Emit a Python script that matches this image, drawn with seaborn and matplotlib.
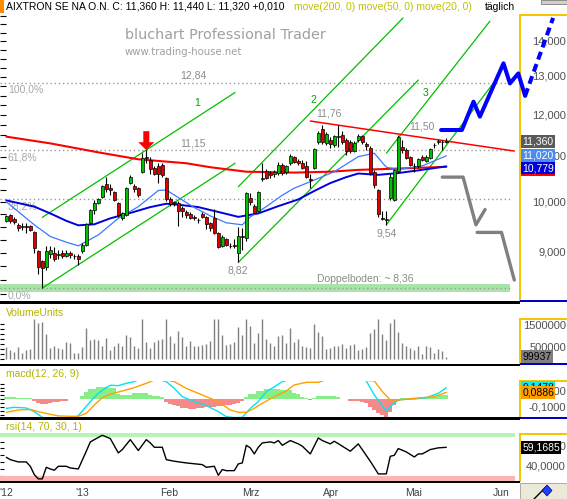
import numpy as np
import matplotlib
matplotlib.use("Agg")
import matplotlib.pyplot as plt
import seaborn as sns
from matplotlib.patches import Rectangle, Polygon
from matplotlib.transforms import IdentityTransform
from matplotlib.ticker import FixedLocator, NullLocator, NullFormatter

# ------------------------------------------------------------------ DATA
day_open = [9.62, 9.74, 9.66, 9.53, 9.50, 9.51, 9.52, 9.40, 9.04, 8.84,
            8.73, 8.98, 9.00, 8.96, 9.00, 8.94, 9.00, 8.94, 8.94, 9.03,
            9.14, 9.57, 9.85, 9.99, 10.11, 10.39, 10.30, 10.22, 9.99, 9.68,
            9.74, 10.41, 10.35, 10.31, 10.66, 11.00, 10.92, 10.74, 10.78, 10.80,
            10.52, 10.07, 9.98, 9.98, 9.88, 9.79, 9.76, 9.69, 9.64, 9.76,
            9.70, 9.58, 9.68, 9.38, 9.13, 9.26, 9.13, 9.15, 9.00, 9.32,
            9.28, 10.10, 9.93, 9.82, 10.50, 10.68, 10.62, 10.60, 10.62, 10.80,
            10.65, 10.85, 10.99, 10.90, 10.86, 10.78, 10.50, 10.75, 11.34, 11.65,
            11.33, 11.40, 11.26, 11.45, 11.50, 11.40, 11.34, 11.14, 11.38, 11.48,
            11.30, 11.20, 10.66, 10.25, 9.67, 9.64, 10.10, 10.05, 10.68, 11.23,
            11.16, 10.99, 10.79, 10.78, 11.00, 10.91, 10.98, 11.26, 11.34, 11.35,
            11.34]
day_high = [9.74, 9.76, 9.70, 9.57, 9.57, 9.57, 9.54, 9.42, 9.06, 8.86,
            9.13, 9.13, 9.10, 9.05, 9.06, 9.05, 9.04, 8.98, 8.98, 9.18,
            9.58, 9.87, 10.05, 10.08, 10.37, 10.55, 10.40, 10.24, 10.01, 9.80,
            10.33, 10.58, 10.40, 10.33, 11.08, 11.15, 11.00, 10.78, 10.85, 10.85,
            10.55, 10.12, 10.03, 10.02, 9.92, 9.84, 9.80, 9.73, 9.68, 9.79,
            9.72, 9.60, 9.86, 9.40, 9.33, 9.28, 9.18, 9.26, 9.50, 9.48,
            10.22, 10.20, 9.96, 10.24, 10.85, 10.72, 10.68, 10.70, 10.88, 10.85,
            10.82, 11.06, 11.02, 10.95, 10.92, 10.90, 10.60, 11.20, 11.60, 11.76,
            11.58, 11.45, 11.52, 11.76, 11.60, 11.44, 11.38, 11.36, 11.53, 11.52,
            11.35, 11.25, 10.70, 10.28, 9.82, 9.82, 10.60, 10.72, 11.52, 11.40,
            11.20, 11.02, 10.85, 10.96, 11.05, 11.05, 11.20, 11.33, 11.42, 11.40,
            11.44]
day_low = [9.60, 9.58, 9.56, 9.42, 9.44, 9.38, 9.42, 8.99, 8.60, 8.36,
           8.68, 8.90, 8.84, 8.88, 8.90, 8.92, 8.91, 8.88, 8.78, 9.00,
           9.12, 9.55, 9.76, 9.97, 10.08, 10.22, 10.15, 10.02, 9.70, 9.64,
           9.72, 10.38, 10.22, 10.12, 10.64, 10.85, 10.60, 10.58, 10.42, 10.55,
           10.03, 9.92, 9.93, 9.52, 9.70, 9.68, 9.66, 9.64, 9.58, 9.67,
           9.46, 9.42, 9.35, 9.09, 9.10, 9.12, 9.08, 9.09, 8.82, 9.05,
           9.22, 9.95, 9.75, 9.80, 10.46, 10.50, 10.52, 10.55, 10.58, 10.58,
           10.60, 10.82, 10.85, 10.80, 10.72, 10.52, 10.30, 10.72, 11.30, 11.30,
           11.28, 11.20, 11.22, 11.23, 11.30, 11.05, 11.08, 11.10, 11.35, 11.30,
           11.15, 10.58, 10.30, 9.70, 9.63, 9.54, 10.05, 10.02, 10.64, 11.08,
           10.95, 10.78, 10.65, 10.74, 10.90, 10.88, 10.95, 11.20, 11.30, 11.15,
           11.32]
day_close = [9.72, 9.62, 9.60, 9.47, 9.51, 9.50, 9.44, 9.08, 8.73, 8.72,
             9.04, 9.05, 8.88, 8.97, 8.94, 9.00, 8.96, 8.93, 8.88, 9.14,
             9.56, 9.85, 9.99, 10.06, 10.35, 10.29, 10.25, 10.04, 9.73, 9.78,
             10.31, 10.54, 10.28, 10.15, 10.98, 10.96, 10.73, 10.60, 10.60, 10.58,
             10.06, 9.97, 10.00, 9.82, 9.82, 9.73, 9.68, 9.68, 9.63, 9.70,
             9.55, 9.47, 9.38, 9.11, 9.30, 9.14, 9.12, 9.12, 9.31, 9.30,
             10.19, 10.00, 9.78, 10.21, 10.53, 10.53, 10.58, 10.66, 10.82, 10.62,
             10.78, 11.02, 10.88, 10.86, 10.75, 10.55, 10.48, 11.17, 11.56, 11.34,
             11.53, 11.29, 11.48, 11.48, 11.34, 11.13, 11.12, 11.33, 11.49, 11.34,
             11.25, 10.62, 10.36, 9.75, 9.66, 9.66, 10.55, 10.70, 11.45, 11.16,
             10.98, 10.82, 10.78, 10.94, 10.93, 11.00, 11.17, 11.28, 11.36, 11.35,
             11.36]
volume_k = [553, 419, 329, 553, 284, 419, 463, 1809, 1629, 1674,
            1136, 508, 598, 508, 463, 762, 732, 284, 284, 553,
            1405, 867, 897, 867, 598, 957, 419, 598, 732, 598,
            1091, 1002, 598, 508, 1809, 777, 508, 777, 867, 912,
            1809, 1046, 732, 1271, 1002, 598, 822, 598, 598, 643,
            688, 822, 1809, 1809, 1106, 643, 703, 777, 1450, 1106,
            1809, 1510, 732, 1181, 1809, 912, 732, 598, 1046, 1091,
            732, 1405, 777, 912, 598, 553, 508, 1584, 1226, 1046,
            463, 508, 598, 598, 688, 508, 658, 688, 419, 463,
            553, 1181, 1360, 1809, 1136, 867, 1629, 1809, 1226, 732,
            598, 508, 419, 598, 239, 598, 553, 284, 463, 374,
            100]

ma200_day = [0, 11, 23, 33, 45, 51, 60, 72, 81, 88, 98, 110]
ma200_val = [11.47, 11.31, 11.10, 10.94, 10.85, 10.76, 10.66, 10.64, 10.66, 10.70, 10.73, 10.77]
ma50_day = [0, 7, 11, 15, 18, 22, 26, 31, 36, 40, 43, 48, 53, 58, 63, 68, 73, 77, 81, 85, 88, 93, 98, 103, 110]
ma50_val = [10.04, 9.91, 9.77, 9.62, 9.53, 9.55, 9.67, 9.78, 9.90, 9.97, 9.95, 9.90, 9.80, 9.70, 9.77,
            9.92, 10.06, 10.24, 10.41, 10.54, 10.62, 10.59, 10.63, 10.69, 10.779]
ma20_day = [0, 7, 11, 15, 18, 23, 28, 33, 36, 38, 40, 43, 47, 51, 55, 59, 61, 65, 69, 72, 76, 82, 88,
            92, 95, 98, 104, 110]
ma20_val = [10.01, 9.54, 9.31, 9.20, 9.13, 9.34, 9.67, 9.91, 10.11, 10.25, 10.26, 10.10, 9.89, 9.72,
            9.58, 9.54, 9.70, 9.91, 10.15, 10.30, 10.44, 10.66, 11.00, 11.08, 10.76, 10.71, 10.79, 11.02]

fib_levels = [12.84, 11.15, 10.07, 8.36]
fib_pct_labels = ["100,0%", "61,8%", "38,2%", "0,0%"]

channel_day = [[9, 57.2], [9, 57.2], [58, 103], [58, 99.2], [95, 121.7], [95, 120.9]]
channel_val = [[8.36, 10.85], [9.69, 12.58], [8.82, 12.91], [10.33, 14.70], [9.54, 12.82], [11.08, 14.60]]
channel_names = ["1", "2", "3"]
resist_day = [76, 127]
resist_val = [11.85, 11.13]

proj_up_day = [108.7, 113.9, 116.8, 118.4, 124.3, 125.9, 128.0, 129.7]
proj_up_val = [11.63, 11.63, 12.34, 11.96, 13.37, 12.82, 13.09, 12.49]
proj_up_dash_day = [129.7, 136.7]
proj_up_dash_val = [12.49, 14.70]
proj_dn1_day = [109.0, 114.2, 117.4, 119.7]
proj_dn1_val = [10.54, 10.54, 9.54, 9.85]
proj_dn2_day = [117.7, 123.8, 127.0]
proj_dn2_val = [9.39, 9.39, 8.50]

macd_hist = [0.030, 0.030, 0.030, 0.021, 0.021, 0.021, 0.021,
             -0.021, -0.051, -0.064, -0.055, -0.051, -0.035, -0.030, -0.017, -0.017,
             0.0, 0.0, 0.0,
             0.047, 0.098, 0.132, 0.132, 0.158, 0.158, 0.155, 0.149, 0.149, 0.070, 0.060,
             0.056, 0.056, 0.077, 0.077, 0.077, 0.077, 0.060, 0.047, 0.040, 0.030,
             -0.030, -0.060, -0.073, -0.090, -0.107, -0.115, -0.120, -0.120, -0.115, -0.110,
             -0.105, -0.094, -0.094, -0.085, -0.081, -0.077, -0.073, -0.060, -0.051, -0.021,
             0.035, 0.064, 0.064, 0.107, 0.107, 0.132, 0.132, 0.132, 0.132, 0.120,
             0.120, 0.115, 0.077, 0.070, 0.026, 0.020, -0.013, 0.021, 0.047, 0.047,
             0.043, 0.043, 0.043, 0.026, 0.0, 0.0,
             -0.021, -0.021, -0.021, -0.035, -0.051, -0.094, -0.137, -0.180, -0.205, -0.235,
             -0.158, -0.073, -0.021,
             0.017, 0.017, 0.017, 0.017, 0.021, 0.021, 0.021, 0.030, 0.030, 0.055, 0.055, 0.055]
macd_day = [0, 2, 5, 7, 9, 12, 15, 17, 18, 21, 23, 25, 26, 28, 30, 32, 35, 40, 42, 44, 47, 50,
            53, 55, 57, 59, 61, 63, 65, 67, 69, 75, 82, 88, 90, 92, 95, 96, 98, 100, 102, 105, 108, 110]
macd_val = [-0.116, -0.103, -0.111, -0.158, -0.231, -0.27, -0.27, -0.24, -0.21, -0.03, 0.077, 0.15,
            0.18, 0.175, 0.205, 0.226, 0.30, 0.226, 0.14, 0.034, -0.03, -0.08, -0.158, -0.222, -0.235,
            -0.231, -0.116, -0.03, 0.098, 0.16, 0.226, 0.32, 0.34, 0.30, 0.235, 0.055, -0.15, -0.094,
            -0.009, 0.0, 0.004, 0.02, 0.077, 0.1478]
signal_day = [0, 3, 6, 8, 11, 13, 16, 18, 20, 22, 24, 26, 29, 32, 35, 36, 38, 42, 45, 49, 53, 56,
              58, 60, 62, 64, 67, 70, 72, 75, 78, 80, 85, 92, 94, 96, 98, 102, 107, 110]
signal_val = [-0.167, -0.137, -0.13, -0.158, -0.192, -0.213, -0.218, -0.218, -0.18, -0.073, 0.021,
              0.064, 0.107, 0.15, 0.205, 0.226, 0.27, 0.226, 0.14, 0.055, -0.03, -0.137, -0.167,
              -0.167, -0.116, -0.051, 0.034, 0.107, 0.184, 0.218, 0.218, 0.25, 0.26, 0.235, 0.10,
              -0.009, -0.009, 0.013, 0.034, 0.0886]
rsi_day = [0, 1, 3, 5, 6, 7, 8, 9, 10, 11, 12, 13, 15, 16, 18, 20, 21, 22, 24, 26, 28, 29, 31, 33,
           35, 36, 37, 39, 40, 42, 45, 49, 50, 52, 53, 54, 55, 57, 58, 59, 60, 61, 62, 63, 64, 66,
           67, 68, 69, 71, 73, 74, 76, 78, 79, 81, 82, 84, 86, 88, 91, 93, 95, 96, 97, 98, 100,
           102, 103, 104, 106, 108, 110]
rsi_val = [49.1, 46.7, 44.4, 44.4, 40.0, 31.6, 27.3, 27.3, 39.0, 37.3, 36.0, 40.0, 40.0, 38.3,
           37.3, 55.2, 64.6, 66.9, 71.3, 68.0, 53.5, 56.9, 66.9, 55.9, 66.9, 63.6, 59.2, 59.2,
           46.7, 45.1, 43.4, 41.7, 39.0, 40.0, 30.9, 36.7, 35.6, 35.6, 42.4, 43.4, 61.2, 58.6,
           52.5, 59.2, 63.6, 64.6, 63.6, 66.0, 61.2, 66.0, 62.6, 60.3, 52.5, 68.6, 66.0, 62.6,
           65.3, 60.3, 55.2, 62.6, 45.1, 32.3, 32.3, 50.1, 51.1, 57.9, 54.5, 49.4, 52.5, 52.5,
           56.9, 58.6, 59.1685]

month_pos = [-0.1, 18.9, 40.7, 61.2, 81.1, 101.9, 123.7]
month_labels = ["'12", "'13", "Feb", "Mrz", "Apr", "Mai", "Jun"]
price_ticks = [9, 10, 11, 12, 13, 14]
swing_labels = ["11,76", "11,50", "8,82", "9,54"]
swing_vals = [11.76, 11.50, 8.82, 9.54]

# ------------------------------------------------------------------ SETUP
sns.set_theme(style="white")
plt.rcParams['font.family'] = ['Liberation Sans', 'DejaVu Sans']

W, H = 567, 499
fig = plt.figure(figsize=(W / 100, H / 100), dpi=100)
fig.patch.set_facecolor('white')

YELLOW = '#f5c400'
NAVY = '#0000c0'


def rect(x0, y0, x1, y1):
    return [x0 / W, 1 - y1 / H, (x1 - x0) / W, (y1 - y0) / H]


def fig_box(x0, y0, x1, y1, color, z=10, ec='none', lw=0):
    fig.add_artist(Rectangle((x0 / W, 1 - y1 / H), (x1 - x0) / W, (y1 - y0) / H,
                             transform=fig.transFigure, facecolor=color, edgecolor=ec,
                             linewidth=lw, zorder=z))


def fig_text(x, y, s, **kw):
    fig.text(x / W, 1 - y / H, s, **kw)


LEFT_DAY = -1.575
DAY_PX = 4.0


def day_lim(x0, x1):
    return (LEFT_DAY + x0 / DAY_PX, LEFT_DAY + x1 / DAY_PX)


def clean(ax):
    for s in ax.spines.values():
        s.set_visible(False)
    ax.set_xticks([])
    ax.set_xlabel('')
    ax.set_ylabel('')


def de(v, nd):
    return f"{v:.{nd}f}".replace('.', ',')


def right_area(r, ylim, log=False):
    a = fig.add_axes(r, facecolor='none')
    if log:
        a.set_yscale('log')
    a.set_ylim(*ylim)
    a.set_xlim(0, 47)
    for s in a.spines.values():
        s.set_visible(False)
    for side in ('left', 'top'):
        a.spines[side].set_visible(True)
        a.spines[side].set_color(YELLOW)
        a.spines[side].set_linewidth(1.4)
    a.set_xticks([])
    return a


def value_box(a, val, txt, fc, tc, dy=0.0, z=5):
    a.annotate(txt, xy=(2.2, val), xytext=(0, dy), textcoords='offset points',
               ha='left', va='center', fontsize=7.5, color=tc, zorder=z,
               bbox=dict(boxstyle='square,pad=0.13', fc=fc, ec='none'))


days = np.arange(len(day_close))
P_LIM = (8.136, 14.79)

# ------------------------------------------------------------------ MAIN PRICE
ax = fig.add_axes(rect(0, 15, 520, 301))
ax.set_facecolor('white')
ax.set_yscale('log')
ax.set_xlim(*day_lim(0, 520))
ax.set_ylim(*P_LIM)

# fibonacci levels
for lvl in fib_levels:
    ax.hlines(lvl, LEFT_DAY, 126.4, colors='#9a9a9a', linestyles=(0, (1, 2)), lw=1, zorder=2)
ax.axhspan(fib_levels[-1] * 0.9915, fib_levels[-1] * 1.0085, xmin=0, xmax=510 / 520,
           color='#a8e4a8', lw=0, zorder=1)
for lvl, lab in zip(fib_levels, fib_pct_labels):
    ax.annotate(lab, xy=(8 / 520, lvl), xycoords=ax.get_yaxis_transform(), xytext=(0, -5.2),
                textcoords='offset points', ha='left', va='center', fontsize=7.5,
                color='#a8a8a8', zorder=2)
for lvl in fib_levels[:2]:
    ax.annotate(de(lvl, 2), xy=(46.7, lvl), xytext=(0, 5), textcoords='offset points',
                ha='center', va='center', fontsize=7.5, color='#8c8c8c', zorder=6)

# channels
for cx, cy in zip(channel_day, channel_val):
    sns.lineplot(x=cx, y=cy, ax=ax, color='#00c000', lw=0.9, legend=False,
                 estimator=None, sort=False, zorder=2)
for name, (cx, cy), off in zip(channel_names, [channel_day[1], channel_day[3], channel_day[5]],
                               [(47.7, 12.30), (76.7, 12.38), (104.9, 12.57)]):
    ax.text(off[0], off[1], name, ha='center', va='center', fontsize=7.5, color='#00a000', zorder=6)

# resistance line
sns.lineplot(x=resist_day, y=resist_val, ax=ax, color='#ff0000', lw=1.1, legend=False,
             estimator=None, sort=False, zorder=3)

# moving averages
sns.lineplot(x=ma200_day, y=ma200_val, ax=ax, color='#ff0000', lw=1.5, legend=False,
             estimator=None, sort=False, zorder=3)
sns.lineplot(x=ma50_day, y=ma50_val, ax=ax, color='#0000e0', lw=1.4, legend=False,
             estimator=None, sort=False, zorder=3)
sns.lineplot(x=ma20_day, y=ma20_val, ax=ax, color='#3c78ff', lw=0.9, legend=False,
             estimator=None, sort=False, zorder=3)

# candles
o = np.array(day_open)
c = np.array(day_close)
up = c >= o
ax.vlines(days, day_low, day_high, colors='black', lw=0.8, zorder=5)
ax.bar(days, np.maximum(np.abs(c - o), 0.004), bottom=np.minimum(o, c), width=0.78,
       color=np.where(up, '#00c000', '#e00000'), edgecolor='black', linewidth=0.5, zorder=6)

# swing labels
ax.annotate(swing_labels[0], xy=(80.7, swing_vals[0]), xytext=(0, 8.4), textcoords='offset points',
            ha='center', va='center', fontsize=7.5, color='#8c8c8c', zorder=6)
ax.annotate(swing_labels[1], xy=(104, swing_vals[1]), xytext=(0, 6.5), textcoords='offset points',
            ha='center', va='center', fontsize=7.5, color='#8c8c8c', zorder=6)
ax.annotate(swing_labels[2], xy=(57.9, swing_vals[2]), xytext=(0, -5.5), textcoords='offset points',
            ha='center', va='center', fontsize=7.5, color='#8c8c8c', zorder=6)
ax.annotate(swing_labels[3], xy=(95, swing_vals[3]), xytext=(0, -6.3), textcoords='offset points',
            ha='center', va='center', fontsize=7.5, color='#8c8c8c', zorder=6)
ax.annotate("Doppelboden: ~ " + de(fib_levels[-1], 2), xy=(89.7, fib_levels[-1]), xytext=(0, 6.5),
            textcoords='offset points', ha='center', va='center', fontsize=7.5,
            color='#8c8c8c', zorder=6)

clean(ax)
ax.yaxis.set_major_locator(FixedLocator(np.arange(8.25, 14.8, 0.25)))
ax.yaxis.set_minor_locator(NullLocator())
ax.yaxis.set_major_formatter(NullFormatter())
ax.yaxis.set_minor_formatter(NullFormatter())
ax.tick_params(axis='y', which='both', direction='in', length=4, width=0.8, colors='black',
               left=True, right=False)

# red arrow at the peak
tx, ty = ax.transData.transform((35, day_high[35]))
arrow = [(0, 0), (-8, 8), (-3, 8), (-3, 19), (3, 19), (3, 8), (8, 8)]
fig.add_artist(Polygon([(tx + a, ty + b) for a, b in arrow], closed=True,
                       transform=IdentityTransform(), fc='#ff0000', ec='none', zorder=8))

# right price area
axp = right_area(rect(520, 15, 567, 301), P_LIM, log=True)
axp.yaxis.set_major_locator(FixedLocator(price_ticks))
axp.yaxis.set_minor_locator(FixedLocator(np.arange(8.2, 14.8, 0.2)))
axp.yaxis.set_major_formatter(NullFormatter())
axp.yaxis.set_minor_formatter(NullFormatter())
axp.tick_params(axis='y', which='major', direction='in', length=5, width=0.8, colors='black')
axp.tick_params(axis='y', which='minor', direction='in', length=2.5, width=0.8, colors='black')
for v in price_ticks:
    axp.text(46, v, f"{v},000", ha='right', va='center', fontsize=8, color='#505050')
value_box(axp, day_close[-1], de(day_close[-1], 3), '#5a5a5a', 'white')
value_box(axp, ma20_val[-1], de(ma20_val[-1], 3), '#4a8cf0', 'white')
value_box(axp, ma200_val[-1], de(ma200_val[-1], 3), '#ff0000', 'white', dy=-2.0)
value_box(axp, ma50_val[-1], de(ma50_val[-1], 3), '#0000d8', 'white', dy=-1.2)

# overlay for projections
axo = fig.add_axes(rect(0, 15, 567, 301), facecolor='none')
axo.set_yscale('log')
axo.set_xlim(*day_lim(0, 567))
axo.set_ylim(*P_LIM)
sns.lineplot(x=proj_up_day, y=proj_up_val, ax=axo, color='#0000ff', lw=2.9, legend=False,
             estimator=None, sort=False)
sns.lineplot(x=proj_up_dash_day, y=proj_up_dash_val, ax=axo, color='#0000ff', lw=2.9,
             legend=False, estimator=None, sort=False, dashes=False, linestyle=(0, (2.0, 1.2)))
sns.lineplot(x=proj_dn1_day, y=proj_dn1_val, ax=axo, color='#808080', lw=2.4, legend=False,
             estimator=None, sort=False)
sns.lineplot(x=proj_dn2_day, y=proj_dn2_val, ax=axo, color='#808080', lw=2.4, legend=False,
             estimator=None, sort=False)
axo.axis('off')

# ------------------------------------------------------------------ VOLUME
V_LIM = (-211, 1807)
axv = fig.add_axes(rect(0, 319, 520, 364))
axv.set_facecolor('white')
axv.set_xlim(*day_lim(0, 520))
axv.set_ylim(*V_LIM)
axv.vlines(days, 0, volume_k, colors='#808080', lw=1.0)
clean(axv)
axv.yaxis.set_major_locator(FixedLocator(np.arange(0, 1800, 225)))
axv.yaxis.set_major_formatter(NullFormatter())
axv.tick_params(axis='y', direction='in', length=3, width=0.8, colors='black', left=True)
fig_text(6, 312.5, "VolumeUnits", fontsize=7.5, color='#b4b400', va='center', ha='left')

axvr = right_area(rect(520, 319, 567, 363.5), V_LIM)
axvr.yaxis.set_major_locator(FixedLocator([500, 1000, 1500]))
axvr.yaxis.set_minor_locator(FixedLocator(np.arange(0, 1800, 250)))
axvr.yaxis.set_major_formatter(NullFormatter())
axvr.tick_params(axis='y', which='major', direction='in', length=5, width=0.8, colors='black')
axvr.tick_params(axis='y', which='minor', direction='in', length=2.5, width=0.8, colors='black')
axvr.text(46, 1500, "1500000", ha='right', va='center', fontsize=8, color='#505050')
axvr.text(46, 500, "500000", ha='right', va='center', fontsize=8, color='#505050')
value_box(axvr, volume_k[-1], "99937", '#808080', 'black')

# ------------------------------------------------------------------ MACD
M_LIM = (-0.2333, 0.2346)
axm = fig.add_axes(rect(0, 381, 520, 417.5))
axm.set_facecolor('white')
axm.set_xlim(*day_lim(0, 520))
axm.set_ylim(*M_LIM)
hist = np.array(macd_hist)
axm.bar(days, hist, width=1.0, color=np.where(hist >= 0, '#88ee88', '#f58888'), lw=0)
sns.lineplot(x=macd_day, y=macd_val, ax=axm, color='#00e4f4', lw=1.0, legend=False,
             estimator=None, sort=False)
sns.lineplot(x=signal_day, y=signal_val, ax=axm, color='#ffa000', lw=1.0, legend=False,
             estimator=None, sort=False)
clean(axm)
axm.yaxis.set_major_locator(FixedLocator(np.arange(-0.2, 0.23, 0.05)))
axm.yaxis.set_major_formatter(NullFormatter())
axm.tick_params(axis='y', direction='in', length=3, width=0.8, colors='black', left=True)
fig_text(6, 374, "macd(12, 26, 9)", fontsize=7.5, color='#b4b400', va='center', ha='left')

axmr = right_area(rect(520, 381, 567, 417.5), M_LIM)
axmr.yaxis.set_major_locator(FixedLocator([-0.1, 0.0, 0.1]))
axmr.yaxis.set_minor_locator(FixedLocator(np.arange(-0.2, 0.23, 0.05)))
axmr.yaxis.set_major_formatter(NullFormatter())
axmr.tick_params(axis='y', which='major', direction='in', length=5, width=0.8, colors='black')
axmr.tick_params(axis='y', which='minor', direction='in', length=2.5, width=0.8, colors='black')
axmr.text(46, 0.1, "0,1000", ha='right', va='center', fontsize=8, color='#505050')
axmr.text(46, -0.1, "-0,1000", ha='right', va='center', fontsize=8, color='#505050')
value_box(axmr, macd_val[-1], de(macd_val[-1], 4), '#00f0ff', 'black')
value_box(axmr, signal_val[-1], de(signal_val[-1], 4), '#ffa000', 'black')

# ------------------------------------------------------------------ RSI
R_LIM = (24.85, 73.3)
axr = fig.add_axes(rect(0, 433.3, 520, 481.3))
axr.set_facecolor('white')
axr.set_xlim(*day_lim(0, 520))
axr.set_ylim(*R_LIM)
axr.axhspan(70, R_LIM[1], xmin=0, xmax=515 / 520, color='#b4f4b4', lw=0)
axr.axhspan(R_LIM[0], 30, xmin=0, xmax=515 / 520, color='#ffb4b4', lw=0)
sns.lineplot(x=rsi_day, y=rsi_val, ax=axr, color='black', lw=1.0, legend=False,
             estimator=None, sort=False)
clean(axr)
axr.yaxis.set_major_locator(FixedLocator(np.arange(30, 73, 7)))
axr.yaxis.set_major_formatter(NullFormatter())
axr.tick_params(axis='y', direction='in', length=3, width=0.8, colors='black', left=True)
fig_text(6, 427, "rsi(14, 70, 30, 1)", fontsize=7.5, color='#b4b400', va='center', ha='left')
for pos, lab in zip(month_pos, month_labels):
    axr.annotate(lab, xy=(pos, 0), xycoords=('data', 'axes fraction'), xytext=(0, -8.4),
                 textcoords='offset points', ha='center', va='center', fontsize=7.5,
                 color='#404040', annotation_clip=False)

axrr = right_area(rect(520, 434, 567, 481), R_LIM)
axrr.yaxis.set_major_locator(FixedLocator([40, 60]))
axrr.yaxis.set_minor_locator(FixedLocator(np.arange(30, 73, 5)))
axrr.yaxis.set_major_formatter(NullFormatter())
axrr.tick_params(axis='y', which='major', direction='in', length=5, width=0.8, colors='black')
axrr.tick_params(axis='y', which='minor', direction='in', length=2.5, width=0.8, colors='black')
axrr.text(46, 60, "60,0000", ha='right', va='center', fontsize=8, color='#505050')
axrr.text(46, 40, "40,0000", ha='right', va='center', fontsize=8, color='#505050')
value_box(axrr, rsi_val[-1], de(rsi_val[-1], 4), 'black', 'white')

# ------------------------------------------------------------------ FRAME / SEPARATORS
fig_box(0, 301.5, 520, 304.3, 'black')
fig_box(520, 300, 567, 302, NAVY)
fig_box(0, 364, 520, 366.4, 'black')
fig_box(520, 362.6, 567, 364.6, NAVY)
fig_box(0, 417.3, 520, 419.6, 'black')
fig_box(520, 416.8, 567, 418.8, NAVY)
fig_box(0, 481, 520, 482.8, 'black')
fig_box(520, 482.5, 567, 499, '#ece9d8', ec='#a0a0a0', lw=0.6)
fig.add_artist(plt.Line2D([534 / W, 545 / W], [1 - 499 / H, 1 - 488 / H], color='black', lw=1,
                          transform=fig.transFigure, zorder=12))
fig.add_artist(Polygon([(547 / W, 1 - 485 / H), (552 / W, 1 - 490.5 / H), (547 / W, 1 - 496 / H),
                        (542 / W, 1 - 490.5 / H)], closed=True, transform=fig.transFigure,
                       fc='#2040ff', ec='#000080', lw=0.5, zorder=12))
fig_box(0, 0, 4.3, 12.7, '#ff8c00')
fig_box(541, 0, 567, 4, '#d4d0c8', ec='#808080', lw=0.6)

# title and watermark
title_main = (f"AIXTRON SE NA O.N. C: {de(day_close[-1], 3)} H: {de(day_high[-1], 3)} "
              f"L: {de(day_low[-1], 3)} +{de(day_close[-1] - day_close[-2], 3)}")
fig_text(6.5, 9.5, title_main, fontsize=7.5, color='black', va='baseline', ha='left')
fig_text(293.7, 9.5, "move(200, 0) move(50, 0) move(20, 0)", fontsize=7.5, color='#c0c000',
         va='baseline', ha='left')
fig_text(484.6, 9.5, "täglich", fontsize=7.5, color='black', va='baseline', ha='left')
fig_text(124.8, 35, "bluchart Professional Trader", fontsize=10.4, family='DejaVu Sans',
         color='#a0a0a0', va='center', ha='left')
fig_text(124.8, 52, "www.trading-house.net", fontsize=7.3, family='DejaVu Sans',
         color='#a0a0a0', va='center', ha='left')

fig.savefig("out.png", dpi=100, facecolor='white')
